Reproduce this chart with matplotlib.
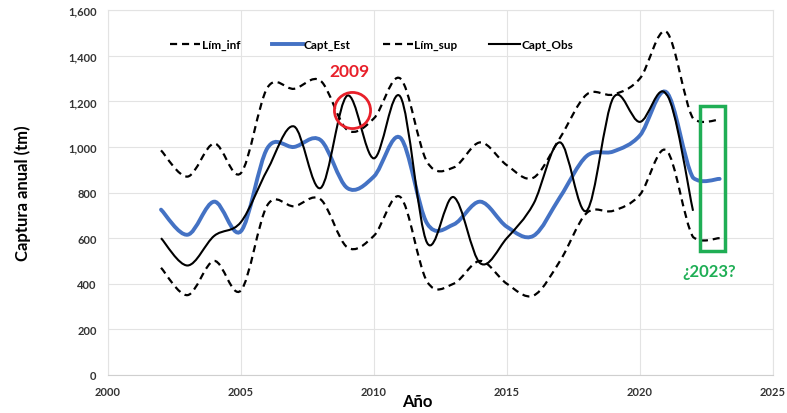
import matplotlib
matplotlib.use("Agg")
import matplotlib.pyplot as plt
from matplotlib.path import Path
from matplotlib.patches import PathPatch, Rectangle
from matplotlib.lines import Line2D
from matplotlib.ticker import FuncFormatter

plt.rcParams['font.family'] = ['Lato', 'DejaVu Sans']

years_obs = list(range(2002, 2023))
years_est = list(range(2002, 2024))

capt_obs = [600, 480, 610, 670, 900, 1090, 820, 1225, 950, 1220, 580,
            780, 490, 600, 750, 1020, 720, 1215, 1110, 1230, 720]
capt_est = [725, 615, 760, 630, 995, 1000, 1030, 820, 870, 1040, 665,
            660, 760, 650, 610, 780, 960, 980, 1050, 1240, 865, 860]
lim_sup = [985, 870, 1015, 885, 1260, 1255, 1290, 1075, 1125, 1300, 935,
           910, 1020, 920, 865, 1040, 1230, 1230, 1300, 1505, 1125, 1120]
lim_inf = [470, 350, 500, 370, 745, 740, 770, 560, 610, 780, 410,
           400, 500, 400, 348, 500, 710, 720, 790, 985, 605, 600]


def smooth_path(xs, ys):
    # Excel-style smoothed line: cubic Bezier segments through every point
    n = len(xs)
    verts = [(xs[0], ys[0])]
    codes = [Path.MOVETO]
    for i in range(n - 1):
        x0, y0 = xs[max(i - 1, 0)], ys[max(i - 1, 0)]
        x1, y1 = xs[i], ys[i]
        x2, y2 = xs[i + 1], ys[i + 1]
        x3, y3 = xs[min(i + 2, n - 1)], ys[min(i + 2, n - 1)]
        k1 = 6 if i + 2 < n else 12   # flatter into the last point
        c1 = (x1 + (x2 - x0) / 6, y1 + (y2 - y0) / k1)
        c2 = (x2 - (x3 - x1) / 6, y2 - (y3 - y1) / 6)
        verts += [c1, c2, (x2, y2)]
        codes += [Path.CURVE4] * 3
    return Path(verts, codes)


blue = '#4472C4'
dash = (0, (3.2, 2.2))

fig = plt.figure(figsize=(7.87, 4.14), dpi=100)
ax = fig.add_axes([0.137, 0.092, 0.845, 0.881])

ax.add_patch(PathPatch(smooth_path(years_est, lim_inf), fill=False,
                       edgecolor='black', lw=1.6, linestyle=dash, zorder=3))
ax.add_patch(PathPatch(smooth_path(years_est, lim_sup), fill=False,
                       edgecolor='black', lw=1.6, linestyle=dash, zorder=3))
ax.add_patch(PathPatch(smooth_path(years_est, capt_est), fill=False,
                       edgecolor=blue, lw=2.8, capstyle='round', zorder=4))
ax.add_patch(PathPatch(smooth_path(years_obs, capt_obs), fill=False,
                       edgecolor='black', lw=1.5, zorder=5))

ax.set_xlim(2000, 2025)
ax.set_ylim(0, 1600)
ax.set_xticks(range(2000, 2026, 5))
ax.set_yticks(range(0, 1601, 200))
ax.yaxis.set_major_formatter(FuncFormatter(lambda v, p: f'{int(v):,}'))
ax.grid(True, color='#e3e3e3', lw=0.8)
ax.set_axisbelow(True)
for s in ax.spines.values():
    s.set_color('#e3e3e3')
ax.spines['bottom'].set_color('#cfcfcf')
ax.tick_params(length=0, labelsize=8, colors='#333333', pad=8)
for lab in ax.get_xticklabels() + ax.get_yticklabels():
    lab.set_fontweight('bold')

ax.set_ylabel('Captura anual (tm)', fontsize=12, fontweight='bold')
ax.yaxis.set_label_coords(-0.115, 0.5)
ax.set_xlabel('Año', fontsize=12, fontweight='bold')
ax.xaxis.set_label_coords(0.465, -0.05)

# annotations
ax.text(2009.1, 1335, '2009', color='#e8202a', fontsize=12.5, fontweight='bold',
        ha='center', va='center')
ax.plot([2009.17], [1162], marker='o', ms=26, mfc='none', mec='#e8202a',
        mew=2, zorder=6)
ax.add_patch(Rectangle((2022.26, 544), 0.94, 636, fill=False,
                       edgecolor='#1fae55', lw=2.5, zorder=6))
ax.text(2022.6, 455, '¿2023?', color='#1fae55', fontsize=12,
        fontweight='bold', ha='center', va='center')

handles = [Line2D([], [], color='black', lw=1.6, linestyle=dash),
           Line2D([], [], color=blue, lw=2.8),
           Line2D([], [], color='black', lw=1.6, linestyle=dash),
           Line2D([], [], color='black', lw=1.5)]
labels = ['Lím_inf', 'Capt_Est', 'Lím_sup', 'Capt_Obs']
leg = ax.legend(handles, labels, ncol=4, frameon=False, loc='upper left',
                bbox_to_anchor=(0.077, 0.95), fontsize=8.5, handlelength=2.6,
                handletextpad=0.1, columnspacing=2.7)
for t in leg.get_texts():
    t.set_fontweight('bold')

fig.savefig('out.png', dpi=100)
